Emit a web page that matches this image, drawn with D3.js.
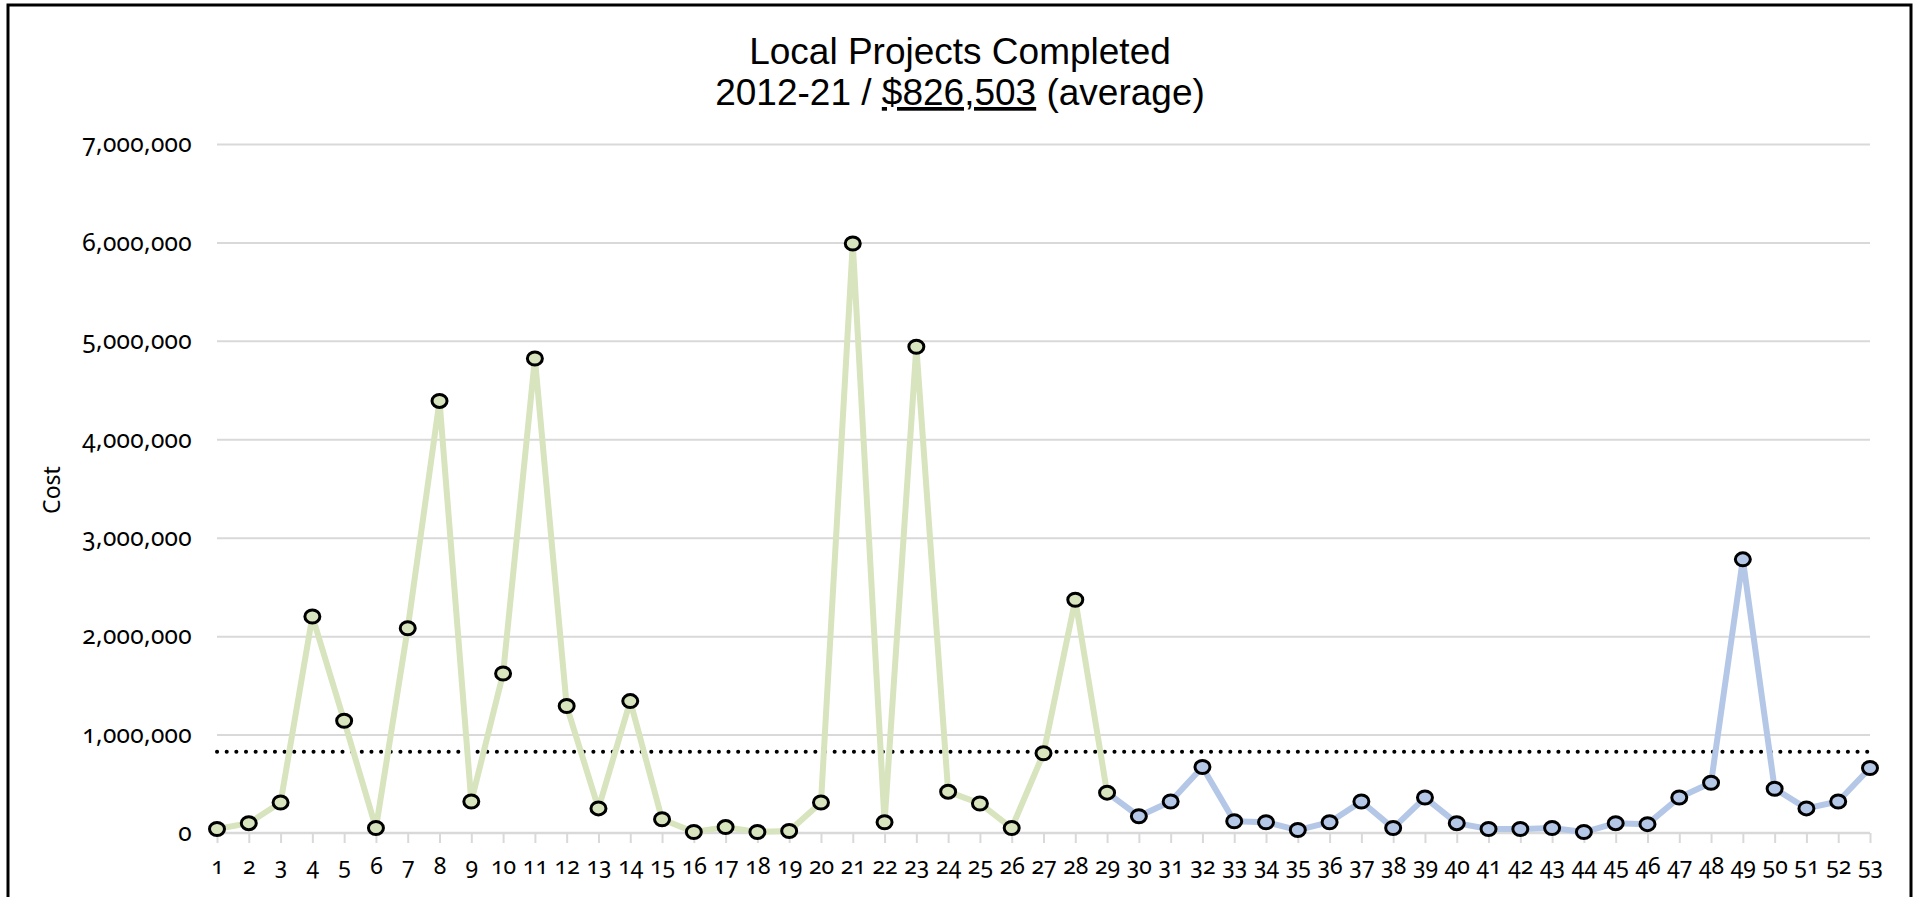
<!DOCTYPE html>
<html>
<head>
<meta charset="utf-8">
<script src="https://cdn.jsdelivr.net/npm/d3@7/dist/d3.min.js"></script>
<style>
  html, body { margin: 0; padding: 0; background: #fff; }
  svg { display: block; }
  .num { font-family: "Noto Sans", Lato, sans-serif; font-variant-numeric: oldstyle-nums; font-feature-settings: "onum" 1; fill: #000; }
</style>
</head>
<body>
<svg id="chart" width="1921" height="897"></svg>
<script>
// ---- data ----
const categories = d3.range(1, 54).map(String);
const greenValues = [40000, 100000, 310000, 2200000, 1140000, 50000, 2080000, 4390000, 320000, 1620000,
  4820000, 1290000, 250000, 1340000, 140000, 10000, 60000, 10000, 20000, 310000,
  5990000, 110000, 4940000, 420000, 300000, 50000, 810000, 2370000, 410000];
const blueValues = [170000, 320000, 670000, 120000, 110000, 30000, 110000, 320000, 50000,
  360000, 100000, 40000, 40000, 50000, 10000, 100000, 90000, 360000, 510000, 2780000,
  450000, 250000, 320000, 660000];
const yTicks = [0, 1000000, 2000000, 3000000, 4000000, 5000000, 6000000, 7000000];
const averageValue = 826503;
const titleLine1 = "Local Projects Completed";
const titleLine2 = ["2012-21 / ", "$826,503", " (average)"];
const yAxisTitle = "Cost";

// green series covers categories 1..29, blue series 29..53 (shares 29 as start)
const greenData = greenValues.map((v, i) => ({ c: categories[i], v }));
const blueData = [{ c: categories[28], v: greenValues[28] }].concat(
  blueValues.map((v, i) => ({ c: categories[29 + i], v })));

const svg = d3.select("#chart");
const x = d3.scalePoint().domain(categories).range([217, 1870]);
const y = d3.scaleLinear().domain([0, 7000000]).range([833, 144]);

// frame
svg.append("rect").attr("x", 8).attr("y", 5).attr("width", 1903).attr("height", 905)
  .attr("fill", "none").attr("stroke", "#000").attr("stroke-width", 3);

// gridlines
const grid = svg.append("g").attr("transform", "translate(217,0)")
  .call(d3.axisLeft(y).tickValues(yTicks.slice(1)).tickSize(-(1870 - 217)).tickFormat(""));
grid.select(".domain").remove();
grid.selectAll("line").attr("stroke", "#d9d9d9").attr("stroke-width", 2);

// y labels
const yAx = svg.append("g").attr("transform", "translate(192,0)")
  .call(d3.axisLeft(y).tickValues(yTicks).tickSize(0).tickPadding(0).tickFormat(d3.format(",")));
yAx.select(".domain").remove();
yAx.selectAll("text").attr("class", "num").style("font-size", "24.5px")
  .style("letter-spacing", "0.3px").attr("dy", "0.32em");

// x axis
const xAx = svg.append("g").attr("transform", "translate(0,833)")
  .call(d3.axisBottom(x).tickSize(10).tickPadding(15));
xAx.select(".domain").attr("stroke", "#d9d9d9").attr("stroke-width", 2.5)
  .attr("d", `M${x("1")},0H${x("53")}`);
xAx.selectAll("line").attr("stroke", "#d9d9d9").attr("stroke-width", 2);
xAx.selectAll("text").attr("class", "num").style("font-size", "23px").attr("dy", "0.7em");

// y axis title
svg.append("text").attr("transform", "translate(60,490) rotate(-90)")
  .attr("text-anchor", "middle").attr("font-family", "'Noto Sans', Lato, sans-serif")
  .attr("font-size", 23).text(yAxisTitle);

// average dotted line
svg.append("line").attr("x1", x("1")).attr("x2", x("53"))
  .attr("y1", y(averageValue)).attr("y2", y(averageValue))
  .attr("stroke", "#000").attr("stroke-width", 4).attr("stroke-linecap", "round")
  .attr("stroke-dasharray", "0.1 9.55");

// lines
const line = d3.line().x(d => x(d.c)).y(d => y(d.v));
svg.append("path").datum(blueData).attr("d", line).attr("fill", "none")
  .attr("stroke", "#b4c7e7").attr("stroke-width", 6).attr("stroke-linejoin", "round");
svg.append("path").datum(greenData).attr("d", line).attr("fill", "none")
  .attr("stroke", "#d7e4bd").attr("stroke-width", 6).attr("stroke-linejoin", "round");

// markers
svg.append("g").selectAll("ellipse").data(blueData.slice(1)).join("ellipse")
  .attr("cx", d => x(d.c)).attr("cy", d => y(d.v)).attr("rx", 7.5).attr("ry", 6.5)
  .attr("fill", "#b4c7e7").attr("stroke", "#000").attr("stroke-width", 3);
svg.append("g").selectAll("ellipse").data(greenData).join("ellipse")
  .attr("cx", d => x(d.c)).attr("cy", d => y(d.v)).attr("rx", 7.5).attr("ry", 6.5)
  .attr("fill", "#d7e4bd").attr("stroke", "#000").attr("stroke-width", 3);

// title
const tf = "'Liberation Sans', Arial, sans-serif";
svg.append("text").attr("x", 960).attr("y", 64).attr("text-anchor", "middle")
  .attr("font-family", tf).attr("font-size", 37).text(titleLine1);
const t2 = svg.append("text").attr("x", 960).attr("y", 105).attr("text-anchor", "middle")
  .attr("font-family", tf).attr("font-size", 37);
t2.selectAll("tspan").data(titleLine2).join("tspan")
  .attr("text-decoration", (d, i) => i === 1 ? "underline" : null)
  .text(d => d);
</script>
</body>
</html>
